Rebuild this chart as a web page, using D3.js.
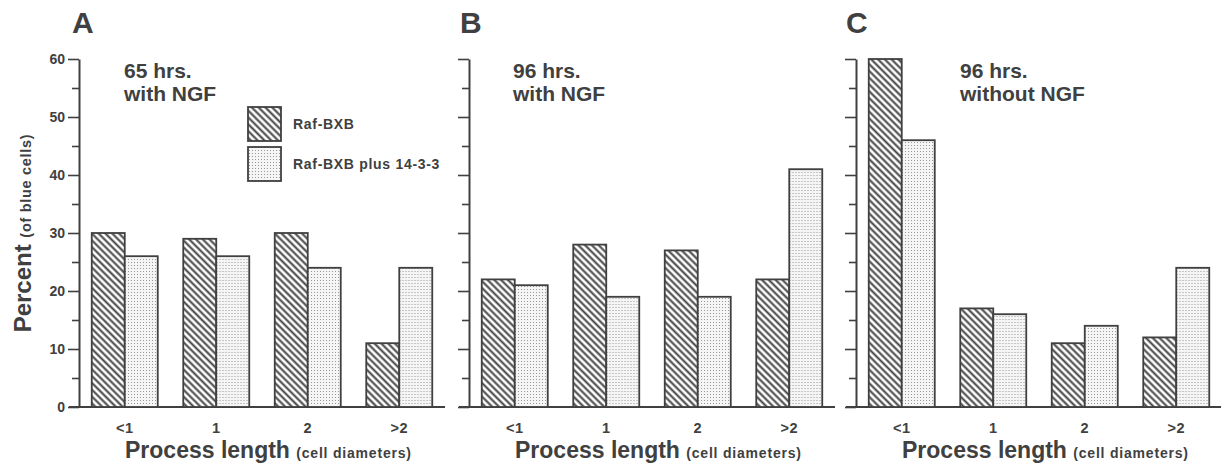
<!DOCTYPE html>
<html>
<head>
<meta charset="utf-8">
<script src="https://cdn.jsdelivr.net/npm/d3@7"></script>
<style>
  body { margin: 0; background: #fff; }
  svg { display: block; font-family: 'Liberation Sans', Arial, sans-serif; font-weight: bold; }
</style>
</head>
<body>
<div id="chart"></div>
<script>
// Data
const categories = ['<1', '1', '2', '>2'];
const series = ['Raf-BXB', 'Raf-BXB plus 14-3-3'];
const panelLetters = ['A', 'B', 'C'];
const panelTitles = [['65 hrs.', 'with NGF'], ['96 hrs.', 'with NGF'], ['96 hrs.', 'without NGF']];
const rafA = [30, 29, 30, 11];
const plusA = [26, 26, 24, 24];
const rafB = [22, 28, 27, 22];
const plusB = [21, 19, 19, 41];
const rafC = [60, 17, 11, 12];
const plusC = [46, 16, 14, 24];
const majorTicks = [0, 10, 20, 30, 40, 50, 60];
const minorTicks = [5, 15, 25, 35, 45, 55];

const ink = '#404040';
const width = 1221, height = 466;

// where each panel's y axis sits, and where its title starts
const panels = [
  { axisX: 79, titleDx: 45, letterDx: -7, raf: rafA, plus: plusA, legend: true, yLabels: true },
  { axisX: 469, titleDx: 44, letterDx: -9, raf: rafB, plus: plusB },
  { axisX: 856, titleDx: 104, letterDx: -10, raf: rafC, plus: plusC }
];

const svg = d3.select('#chart').append('svg')
  .attr('width', width)
  .attr('height', height);

// fill patterns: diagonal hatch and fine stipple
const defs = svg.append('defs');
const hatch = defs.append('pattern')
  .attr('id', 'hatch')
  .attr('patternUnits', 'userSpaceOnUse')
  .attr('width', 4.8).attr('height', 4.8)
  .attr('patternTransform', 'rotate(45)');
hatch.append('rect').attr('width', 4.8).attr('height', 4.8).attr('fill', '#fff');
hatch.append('line')
  .attr('x1', 0).attr('x2', 4.8).attr('y1', 2.4).attr('y2', 2.4)
  .attr('stroke', ink).attr('stroke-width', 2);

const dots = defs.append('pattern')
  .attr('id', 'dots')
  .attr('patternUnits', 'userSpaceOnUse')
  .attr('width', 3).attr('height', 3);
dots.append('rect').attr('width', 3).attr('height', 3).attr('fill', '#f5f5f5');
dots.append('rect').attr('x', 1).attr('y', 1).attr('width', 1).attr('height', 1).attr('fill', '#999');

const fills = { 'Raf-BXB': 'url(#hatch)', 'Raf-BXB plus 14-3-3': 'url(#dots)' };

const y = d3.scaleLinear().domain([0, 60]).range([407, 59]);
const plotW = 366;
const barW = 33;

panels.forEach((p, i) => {
  const g = svg.append('g').attr('transform', 'translate(' + p.axisX + ',0)');

  const x = d3.scaleBand().domain(categories).range([0, plotW]);
  const xSub = d3.scaleBand().domain(series)
    .range([x.bandwidth() / 2 - barW, x.bandwidth() / 2 + barW]);

  // baseline
  g.append('line')
    .attr('x1', -10).attr('x2', plotW)
    .attr('y1', y(0)).attr('y2', y(0))
    .attr('stroke', ink).attr('stroke-width', 2);

  // y axis, major + minor ticks
  const major = g.append('g')
    .call(d3.axisLeft(y).tickValues(majorTicks).tickSize(11).tickSizeOuter(0)
      .tickFormat(p.yLabels ? d3.format('d') : ''));
  major.attr('font-family', null).attr('font-size', null);
  major.select('.domain').attr('stroke', ink).attr('stroke-width', 2);
  major.selectAll('.tick line').attr('stroke', ink).attr('stroke-width', 1.6);
  major.selectAll('.tick text')
    .attr('fill', ink).style('font-size', '14px')
    .attr('x', -14).attr('dy', '0.35em');

  const minor = g.append('g')
    .call(d3.axisLeft(y).tickValues(minorTicks).tickSize(7).tickFormat(''));
  minor.select('.domain').remove();
  minor.selectAll('.tick line').attr('stroke', ink).attr('stroke-width', 1.6);

  // x axis labels
  const xAxis = g.append('g')
    .attr('transform', 'translate(0,' + y(0) + ')')
    .call(d3.axisBottom(x).tickSize(0).tickPadding(16));
  xAxis.attr('font-family', null).attr('font-size', null);
  xAxis.select('.domain').remove();
  xAxis.selectAll('.tick text')
    .attr('fill', ink).style('font-size', '14.5px')
    .attr('letter-spacing', 0.4);

  // bars
  const groups = g.selectAll('g.grp')
    .data(categories)
    .enter().append('g')
    .attr('class', 'grp')
    .attr('transform', d => 'translate(' + x(d) + ',0)');

  groups.selectAll('rect')
    .data((d, j) => [
      { s: series[0], v: p.raf[j] },
      { s: series[1], v: p.plus[j] }
    ])
    .enter().append('rect')
    .attr('x', d => xSub(d.s))
    .attr('width', xSub.bandwidth())
    .attr('y', d => y(d.v))
    .attr('height', d => y(0) - y(d.v))
    .attr('fill', d => fills[d.s])
    .attr('stroke', ink)
    .attr('stroke-width', 1.8);

  // panel letter
  svg.append('text')
    .attr('x', p.axisX + p.letterDx).attr('y', 33)
    .attr('font-size', 30).attr('fill', ink)
    .text(panelLetters[i]);

  // condition title
  const t = g.append('text')
    .attr('x', p.titleDx).attr('y', 78)
    .attr('font-size', 21).attr('fill', ink);
  panelTitles[i].forEach((line, k) => {
    t.append('tspan').attr('x', p.titleDx).attr('dy', k === 0 ? 0 : 23).text(line);
  });

  // x axis title
  const xt = g.append('text')
    .attr('x', 46).attr('y', 458)
    .attr('fill', ink);
  xt.append('tspan').attr('font-size', 23).text('Process length ');
  xt.append('tspan').attr('font-size', 14).attr('letter-spacing', 0.8).text('(cell diameters)');

  // legend
  if (p.legend) {
    const lg = g.append('g').attr('transform', 'translate(169,107)');
    series.forEach((s, k) => {
      lg.append('rect')
        .attr('x', 0).attr('y', k * 40)
        .attr('width', 33).attr('height', 34)
        .attr('fill', fills[s])
        .attr('stroke', ink).attr('stroke-width', 1.8);
      lg.append('text')
        .attr('x', 45).attr('y', k * 40 + 17).attr('dy', '0.35em')
        .attr('font-size', 14).attr('letter-spacing', 0.7)
        .attr('fill', ink)
        .text(s);
    });
  }
});

// y axis title
const yt = svg.append('text')
  .attr('transform', 'translate(31,' + ((y(0) + y(60)) / 2) + ') rotate(-90)')
  .attr('text-anchor', 'middle')
  .attr('fill', ink);
yt.append('tspan').attr('font-size', 24).text('Percent ');
yt.append('tspan').attr('font-size', 14.5).attr('letter-spacing', 0.7).text('(of blue cells)');
</script>
</body>
</html>
